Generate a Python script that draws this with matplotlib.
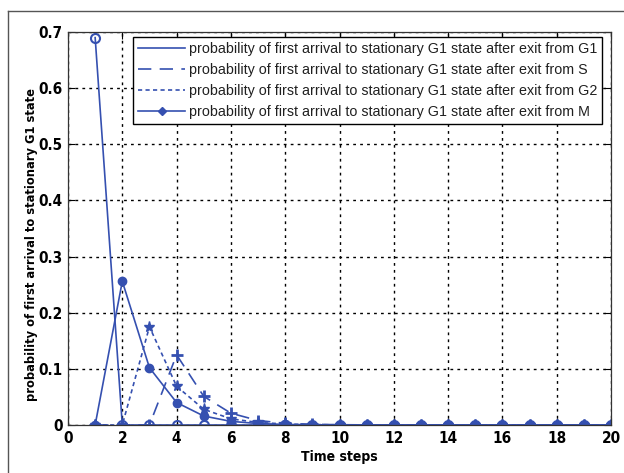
import matplotlib
matplotlib.use("Agg")
import matplotlib.pyplot as plt
from matplotlib.lines import Line2D
from matplotlib import font_manager
import numpy as np

t = list(range(1, 21))
p_g1 = [0.69, 0, 0, 0, 0, 0, 0, 0, 0, 0, 0, 0, 0, 0, 0, 0, 0, 0, 0, 0]
p_s = [0, 0, 0, 0.125, 0.051, 0.021, 0.008, 0.003, 0.0012, 0.0005, 0.0002, 0, 0, 0, 0, 0, 0, 0, 0, 0]
p_g2 = [0, 0, 0.175, 0.069, 0.028, 0.011, 0.0045, 0.0018, 0.0007, 0.0003, 0.0001, 0, 0, 0, 0, 0, 0, 0, 0, 0]
p_m = [0, 0.256, 0.102, 0.04, 0.016, 0.0065, 0.0026, 0.001, 0.0004, 0.0002, 0.0001, 0, 0, 0, 0, 0, 0, 0, 0, 0]

labels = [
    "probability of first arrival to stationary G1 state after exit from G1",
    "probability of first arrival to stationary G1 state after exit from S",
    "probability of first arrival to stationary G1 state after exit from G2",
    "probability of first arrival to stationary G1 state after exit from M",
]
xticks = list(range(0, 21, 2))
yticks = [0, 0.1, 0.2, 0.3, 0.4, 0.5, 0.6, 0.7]
ytick_labels = ["0", "0.1", "0.2", "0.3", "0.4", "0.5", "0.6", "0.7"]

# pick a condensed bold font if available
cond_fp = None
for f in font_manager.fontManager.ttflist:
    if f.name in ("Liberation Sans Narrow",) and f.weight in (700, "bold"):
        cond_fp = font_manager.FontProperties(fname=f.fname)
        break
if cond_fp is None:
    for f in font_manager.fontManager.ttflist:
        if "Condensed" in f.fname and "Bold" in f.fname and "DejaVuSans" in f.fname and "Oblique" not in f.fname:
            cond_fp = font_manager.FontProperties(fname=f.fname)
            break
if cond_fp is None:
    cond_fp = font_manager.FontProperties(family="DejaVu Sans", weight="bold")

blue = "#3550b0"
W, H = 624, 473
fig = plt.figure(figsize=(W / 100, H / 100), dpi=100)
ax = fig.add_axes([68 / W, 1 - 425 / H, (611 - 68) / W, (425 - 32) / H])

lw = 1.2
ax.plot(t, p_g1, color=blue, lw=lw, ls="-")
ax.plot(t, p_s, color=blue, lw=lw, ls=(0, (8, 5)))
ax.plot(t, p_g2, color=blue, lw=lw, ls=(0, (2.5, 2)))
ax.plot(t, p_m, color=blue, lw=lw, ls="-")
ax.plot(t, p_g1, color=blue, ls="none", marker="o", ms=6.5, mfc="none", mew=1.5)
ax.plot(t, p_s, color=blue, ls="none", marker="+", ms=9, mew=2)
ax.plot(t, p_g2, color=blue, ls="none", marker="*", ms=8, mew=1)
ax.plot(t, p_m, color=blue, ls="none", marker="o", ms=6, mfc=blue, mec=blue)

ax.set_xlim(0, 20)
ax.set_ylim(0, 0.7)
ax.set_xticks(xticks)
ax.set_yticks(yticks)
ax.set_yticklabels(ytick_labels)
ax.grid(True, color="black", ls=(0, (2, 3)), lw=1.0)
ax.tick_params(direction="in", top=True, right=True, length=5, width=0.8, pad=4)
tick_fp = cond_fp.copy()
tick_fp.set_size(11)
for lab in ax.get_xticklabels() + ax.get_yticklabels():
    lab.set_fontproperties(tick_fp)
for s in ax.spines.values():
    s.set_linewidth(0.9)
    s.set_color("#333333")

xl_fp = cond_fp.copy()
xl_fp.set_size(10)
yl_fp = cond_fp.copy()
yl_fp.set_size(9.2)
ax.set_xlabel("Time steps", fontproperties=xl_fp, labelpad=3)
ax.set_ylabel("probability of first arrival to stationary G1 state", fontproperties=yl_fp)
ax.yaxis.set_label_coords(-0.056, 0.46)

handles = [
    Line2D([], [], color=blue, lw=lw, ls="-"),
    Line2D([], [], color=blue, lw=lw, ls=(0, (8, 5))),
    Line2D([], [], color=blue, lw=lw, ls=(0, (2.5, 2))),
    Line2D([], [], color=blue, lw=lw, ls="-", marker="D", ms=4),
]
leg = ax.legend(handles, labels, loc="upper right", bbox_to_anchor=(0.989, 0.995),
                fancybox=False, framealpha=1, edgecolor="black",
                prop={"family": ["Liberation Sans", "DejaVu Sans"], "size": 10.3},
                handlelength=3.3, handletextpad=0.25, borderpad=0.35, labelspacing=0.5,
                borderaxespad=0.2)
leg.get_frame().set_linewidth(1.0)
for txt in leg.get_texts():
    txt.set_color("#202020")

# outer frame
fig.add_artist(Line2D([8 / W, 8 / W], [0, 1 - 11 / H], transform=fig.transFigure, color="#555555", lw=1))
fig.add_artist(Line2D([8 / W, 1], [1 - 11 / H, 1 - 11 / H], transform=fig.transFigure, color="#555555", lw=1))

fig.savefig("out.png", dpi=100)
